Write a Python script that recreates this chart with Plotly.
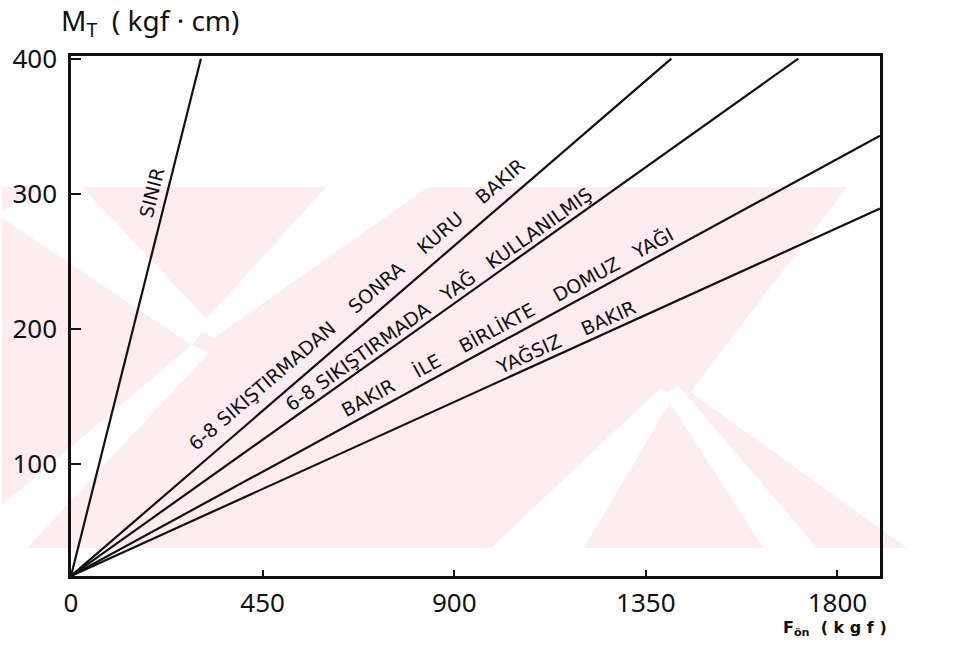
import math
import plotly.graph_objects as go

# ---------------- data ----------------
x_tick_vals = [0, 450, 900, 1350, 1800]
x_tick_text = ["0", "450", "900", "1350", "1800"]
y_tick_vals = [100, 200, 300, 400]
y_tick_text = ["100", "200", "300", "400"]

series_names = [
    "SINIR",
    "6-8 SIKIŞTIRMADAN SONRA KURU BAKIR",
    "6-8 SIKIŞTIRMADA YAĞ KULLANILMIŞ",
    "BAKIR İLE BİRLİKTE DOMUZ YAĞI",
    "YAĞSIZ BAKIR",
]
# F_ön (kgf)
series_x = [
    [0, 305],
    [0, 1410],
    [0, 1708],
    [0, 1900],
    [0, 1900],
]
# M_T (kgf.cm)
series_y = [
    [17, 400],
    [17, 400],
    [17, 400],
    [17, 343],
    [17, 289],
]

# ---------------- layout constants ----------------
W, H = 973, 662
L, R, T, B = 69, 93, 56, 86
PW, PH = W - L - R, H - T - B
XR = [0, 1900]
YR = [17, 402]
NB = "\u00a0"

label_text = [
    "SINIR",
    "6-8 SIKIŞTIRMADAN" + NB * 4 + "SONRA" + NB * 4 + "KURU" + NB * 4 + "BAKIR",
    "6-8 SIKIŞTIRMADA" + NB * 3 + "YAĞ" + NB * 3 + "KULLANILMIŞ",
    "BAKIR" + NB * 4 + "İLE" + NB * 4 + "BİRLİKTE" + NB * 4 + "DOMUZ" + NB * 3 + "YAĞI",
    "YAĞSIZ" + NB * 4 + "BAKIR",
]
label_frac = [0.735, 0.497, 0.516, 0.548, 0.6185]
label_perp = [15, 19, 13, 15, 14]

INK = "#111111"
FONT = "DejaVu Sans"

fig = go.Figure()

# watermark (decorative background, pixel coords -> paper)
def px2paper(px, py):
    return (px - L) / PW, (H - B - py) / PH

PINK = "#fdedf0"
WHITE = "#ffffff"
wm_pink = [[(0, 187), (847, 187), (690, 392), (907, 548), (0, 548)]]
wm_white = [
    [(40, 187), (80, 187), (208, 322), (190, 345), (0, 218), (0, 212)],
    [(325, 187), (427, 187), (212, 338), (196, 328)],
    [(0, 505), (190, 345), (208, 352), (25, 548), (0, 548)],
    [(490, 548), (583, 548), (672, 398), (660, 388)],
    [(664, 394), (678, 386), (817, 548), (763, 548)],
]

def poly_path(pts):
    s = ""
    for i, (px, py) in enumerate(pts):
        ax, ay = px2paper(px, py)
        s += ("M" if i == 0 else "L") + f"{ax:.4f},{ay:.4f} "
    return s + "Z"

shapes = []
for pts in wm_pink:
    shapes.append(dict(type="path", xref="paper", yref="paper", path=poly_path(pts),
                       fillcolor=PINK, line=dict(width=0), layer="below"))
for pts in wm_white:
    shapes.append(dict(type="path", xref="paper", yref="paper", path=poly_path(pts),
                       fillcolor=WHITE, line=dict(width=0), layer="below"))

sx = PW / (XR[1] - XR[0])
sy = PH / (YR[1] - YR[0])

annotations = []
for name, xs, ys, txt, f, perp in zip(series_names, series_x, series_y,
                                       label_text, label_frac, label_perp):
    fig.add_trace(go.Scatter(x=xs, y=ys, mode="lines", name=name,
                             line=dict(color=INK, width=2.2), showlegend=False,
                             hoverinfo="skip"))
    dxp = (xs[1] - xs[0]) * sx
    dyp = (ys[1] - ys[0]) * sy
    ang = math.atan2(dyp, dxp)
    ax_ = xs[0] + f * (xs[1] - xs[0])
    ay_ = ys[0] + f * (ys[1] - ys[0])
    annotations.append(dict(
        x=ax_, y=ay_, xref="x", yref="y", text=txt, showarrow=False,
        textangle=-math.degrees(ang),
        xshift=-math.sin(ang) * perp, yshift=math.cos(ang) * perp,
        font=dict(family=FONT, size=19, color=INK),
        xanchor="center", yanchor="middle",
    ))

# axis titles
annotations.append(dict(
    x=(57 - L) / PW, y=(H - B - 22) / PH, xref="paper", yref="paper",
    text="M<sub>T</sub>" + NB * 2 + "( kgf · cm)", showarrow=False,
    xanchor="left", yanchor="middle",
    font=dict(family="Noto Sans", size=28, color=INK)))
annotations.append(dict(
    x=(889 - L) / PW, y=(H - B - 628) / PH, xref="paper", yref="paper",
    text="<b>F<sub>ön</sub>" + NB * 2 + "( k g f )</b>", showarrow=False,
    xanchor="right", yanchor="middle",
    font=dict(family=FONT, size=16, color=INK)))

axis_common = dict(showline=True, linecolor=INK, linewidth=2.5, mirror=True,
                   showgrid=False, zeroline=False, ticks="inside", tickcolor=INK,
                   tickwidth=2, tickfont=dict(family="Noto Sans", size=26, color=INK))

fig.update_layout(
    width=W, height=H,
    margin=dict(l=L, r=R, t=T, b=B, pad=0),
    paper_bgcolor="white", plot_bgcolor="rgba(0,0,0,0)",
    shapes=shapes, annotations=annotations,
    xaxis=dict(range=XR, tickvals=x_tick_vals, ticktext=x_tick_text, ticklen=6,
               ticklabelstandoff=2, **axis_common),
    yaxis=dict(range=YR, tickvals=y_tick_vals, ticktext=y_tick_text, ticklen=10,
               ticklabelstandoff=6, **axis_common),
)

fig.write_html("out.html")
